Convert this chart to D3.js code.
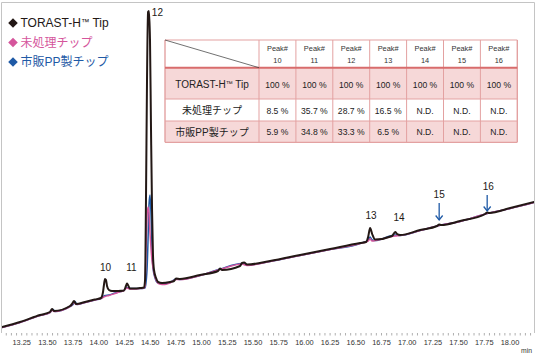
<!DOCTYPE html>
<meta charset="utf-8">
<style>
  body { margin: 0; background: #fff; }
  svg text { font-family: "Liberation Sans", Arial, "Noto Sans CJK JP", sans-serif; }
</style>
<body>
<script src="https://d3js.org/d3.v7.js"></script>
<script>
// chromatogram traces: [time (min), signal]
const toraSignal = [
  [13.058, 6], [13.233, 11], [13.428, 18], [13.525, 21], [13.545, 24], [13.564, 22],
  [13.720, 27], [13.739, 29], [13.759, 32], [13.778, 29], [13.866, 31], [13.963, 33.5],
  [14.021, 35], [14.041, 41], [14.050, 48], [14.060, 54], [14.070, 53], [14.080, 47],
  [14.099, 43], [14.128, 42], [14.187, 42], [14.245, 42.5], [14.264, 47], [14.274, 49.5],
  [14.284, 48], [14.303, 44.5], [14.352, 44.5], [14.401, 45], [14.440, 45.5], [14.450, 53],
  [14.459, 133], [14.469, 253], [14.479, 321], [14.488, 322], [14.498, 293], [14.508, 203],
  [14.518, 123], [14.527, 78], [14.537, 63], [14.557, 55], [14.576, 51], [14.615, 50],
  [14.693, 51], [14.732, 52], [14.751, 54.5], [14.790, 54], [14.985, 58], [15.160, 62],
  [15.179, 64.5], [15.199, 63], [15.374, 67], [15.393, 70], [15.413, 70.5], [15.442, 68.5],
  [15.666, 72], [15.958, 78], [16.250, 84], [16.542, 90], [16.600, 91], [16.620, 96],
  [16.639, 105], [16.659, 99], [16.688, 93.5], [16.853, 97], [16.883, 101], [16.902, 99],
  [16.931, 98], [17.126, 103], [17.291, 107], [17.311, 108.5], [17.330, 108], [17.515, 112],
  [17.758, 119], [17.778, 120.5], [17.797, 120], [18.002, 125], [18.235, 131]
]
const untreatedSignal = [
  [13.058, 5.5], [13.233, 10.5], [13.428, 17.5], [13.525, 20.5], [13.545, 23], [13.564, 21.5],
  [13.720, 26.5], [13.739, 28], [13.759, 31], [13.778, 28.5], [13.866, 30.5], [13.963, 33],
  [14.021, 34.5], [14.060, 36.5], [14.099, 37.5], [14.158, 39.5], [14.216, 41.5], [14.245, 42.5],
  [14.274, 45], [14.303, 44], [14.401, 44.5], [14.440, 45], [14.450, 47], [14.459, 83],
  [14.469, 116], [14.479, 126], [14.488, 120], [14.498, 100], [14.508, 84], [14.518, 72],
  [14.537, 60], [14.557, 53], [14.590, 49], [14.644, 48.5], [14.693, 50], [14.751, 53.5], [14.790, 53.5],
  [14.985, 57.5], [15.179, 63.5], [15.393, 69], [15.442, 67.5], [15.666, 71.5], [15.958, 77.5],
  [16.250, 83.5], [16.542, 89.5], [16.620, 92], [16.639, 94], [16.659, 92], [16.688, 92.5],
  [16.883, 97], [16.931, 97.5], [17.126, 102.5], [17.311, 107.5], [17.515, 111.5],
  [17.778, 119.5], [18.002, 124.5], [18.235, 130.5]
]
const ppSignal = [
  [13.058, 5.5], [13.233, 10.5], [13.428, 17.5], [13.525, 20.5], [13.555, 23.5], [13.574, 21.5],
  [13.720, 26.5], [13.749, 28.5], [13.769, 31.5], [13.788, 28.5], [13.866, 30.5], [13.963, 33],
  [14.021, 34.5], [14.060, 37.5], [14.099, 38], [14.158, 40], [14.216, 41.5], [14.245, 42.5],
  [14.274, 45.5], [14.303, 44.5], [14.401, 44.5], [14.450, 45], [14.469, 63], [14.479, 93],
  [14.488, 128], [14.498, 138], [14.508, 118], [14.518, 83], [14.527, 65], [14.547, 55],
  [14.576, 50], [14.644, 49.5], [14.693, 50.5], [14.751, 54], [14.790, 53.5], [14.985, 57.5],
  [15.179, 64], [15.393, 69.5], [15.442, 68], [15.666, 71.5], [15.958, 77.5], [16.250, 83.5],
  [16.542, 89.5], [16.620, 93], [16.639, 96], [16.659, 93], [16.688, 92.5], [16.883, 98],
  [16.931, 97.5], [17.126, 102.5], [17.311, 107.5], [17.515, 111.5], [17.778, 119.5],
  [18.002, 124.5], [18.235, 130.5]
]

// peak labels: [name, time, signal at label]
const peakLabels = [
  ['10', 14.065, 62], ['11', 14.318, 62], ['12', 14.57, 317],
  ['13', 16.648, 114], ['14', 16.92, 112], ['15', 17.311, 135], ['16', 17.788, 143]
]
const arrowPeaks = [[17.311, 130, 113], [17.778, 138, 122]]

const xTicks = d3.range(13.25, 18.001, 0.25)
const minorTicks = d3.range(13.10, 18.23, 0.05)

// legend
const seriesNames = ['TORAST-H™ Tip', '未処理チップ', '市販PP製チップ']
const seriesColors = ['#231815', '#d5559c', '#1f5aa6']

// table
const peakCols = ['10', '11', '12', '13', '14', '15', '16']
const tableRows = ['TORAST-H™ Tip', '未処理チップ', '市販PP製チップ']
const tableValues = [
  ['100 %', '100 %', '100 %', '100 %', '100 %', '100 %', '100 %'],
  ['8.5 %', '35.7 %', '28.7 %', '16.5 %', 'N.D.', 'N.D.', 'N.D.'],
  ['5.9 %', '34.8 %', '33.3 %', '6.5 %', 'N.D.', 'N.D.', 'N.D.']
]

const w = 538
const h = 354

const svg = d3.select('body').append('svg')
  .attr('width', w)
  .attr('height', h)

const xScale = d3.scaleLinear().domain([13.25, 18.0]).range([21.7, 510])
const yScale = d3.scaleLinear().domain([0, 330]).range([333, 3])

// writes a label with a smaller, raised trademark sign
function tmText(sel, size) {
  sel.each(function (d) {
    const parts = d.split('™')
    const t = d3.select(this)
    t.append('tspan').text(parts[0])
    if (parts.length > 1) {
      t.append('tspan').attr('font-size', size * 0.7).attr('dy', -size * 0.22).text('™')
      t.append('tspan').attr('dy', size * 0.22).text(parts[1])
    }
  })
}

// frame
svg.append('path')
  .attr('d', 'M1.5,333V2.5H534.5V333')
  .attr('fill', 'none')
  .attr('stroke', '#c4c4c4')

svg.append('clipPath').attr('id', 'plot')
  .append('rect').attr('x', 2).attr('y', 3).attr('width', 532).attr('height', 330)

// ticks
svg.selectAll('.minor')
  .data(minorTicks)
  .enter()
  .append('line')
  .attr('x1', d => xScale(d)).attr('x2', d => xScale(d))
  .attr('y1', 333).attr('y2', 335.5)
  .attr('stroke', '#9a9a9a')
  .attr('stroke-width', 0.8)

svg.selectAll('.xlab')
  .data(xTicks)
  .enter()
  .append('text')
  .attr('x', d => xScale(d))
  .attr('y', 344.5)
  .attr('text-anchor', 'middle')
  .attr('font-size', 7.4)
  .attr('fill', '#333')
  .text(d => d.toFixed(2))

svg.append('text')
  .attr('x', 532).attr('y', 352.5)
  .attr('text-anchor', 'end')
  .attr('font-size', 6.8)
  .attr('fill', '#333')
  .text('min')

// traces
const line = d3.line()
  .x(d => xScale(d[0]))
  .y(d => yScale(d[1]))
  .curve(d3.curveMonotoneX)

const traces = [
  [ppSignal, seriesColors[2], 1.5],
  [untreatedSignal, seriesColors[1], 1.5],
  [toraSignal, seriesColors[0], 2]
]
svg.append('g')
  .attr('clip-path', 'url(#plot)')
  .selectAll('path')
  .data(traces)
  .enter()
  .append('path')
  .attr('d', d => line(d[0]))
  .attr('fill', 'none')
  .attr('stroke', d => d[1])
  .attr('stroke-width', d => d[2])
  .attr('stroke-linejoin', 'round')

// peak labels
svg.selectAll('.peak')
  .data(peakLabels)
  .enter()
  .append('text')
  .attr('x', d => xScale(d[1]))
  .attr('y', d => yScale(d[2]))
  .attr('text-anchor', 'middle')
  .attr('font-size', 10)
  .attr('fill', '#231815')
  .text(d => d[0])

const arrows = svg.selectAll('.arrow')
  .data(arrowPeaks)
  .enter()
  .append('g')
  .attr('stroke', '#1f5aa6')
  .attr('fill', 'none')
  .attr('stroke-width', 1.3)
arrows.append('line')
  .attr('x1', d => xScale(d[0])).attr('x2', d => xScale(d[0]))
  .attr('y1', d => yScale(d[1])).attr('y2', d => yScale(d[2]))
arrows.append('path')
  .attr('d', d => {
    const x = xScale(d[0]), y = yScale(d[2])
    return 'M' + (x - 3.5) + ',' + (y - 4.5) + 'L' + x + ',' + y + 'L' + (x + 3.5) + ',' + (y - 4.5)
  })

// legend
const legend = svg.selectAll('.legend')
  .data(seriesNames)
  .enter()
  .append('g')
  .attr('transform', (d, i) => 'translate(8,' + (23 + i * 19.5) + ')')
legend.append('path')
  .attr('d', d3.symbol(d3.symbolSquare, 46))
  .attr('transform', 'translate(5,0) rotate(45)')
  .attr('fill', (d, i) => seriesColors[i])
legend.append('text')
  .attr('x', 12.5)
  .attr('y', 4.3)
  .attr('font-size', 12)
  .attr('fill', (d, i) => seriesColors[i])
  .call(tmText, 12)

// table
const tx = 165
const firstW = 94
const colW = (517.3 - 259) / 7
const rowY = [40, 67.7, 99, 121, 142.3]
const table = svg.append('g')

table.selectAll('.fill')
  .data([0, 2])
  .enter()
  .append('rect')
  .attr('x', tx).attr('width', firstW + 7 * colW)
  .attr('y', d => rowY[d + 1]).attr('height', d => rowY[d + 2] - rowY[d + 1])
  .attr('fill', '#f6d8d8')

const colX = [tx, tx + firstW].concat(d3.range(1, 8).map(i => tx + firstW + i * colW))
table.selectAll('.vline')
  .data(colX)
  .enter()
  .append('line')
  .attr('x1', d => d).attr('x2', d => d)
  .attr('y1', rowY[0]).attr('y2', rowY[4])
  .attr('stroke', '#e3a1a1')
  .attr('stroke-width', (d, i) => (i === 0 || i === colX.length - 1) ? 1.4 : 1)

table.selectAll('.hline')
  .data(rowY)
  .enter()
  .append('line')
  .attr('x1', tx).attr('x2', colX[colX.length - 1])
  .attr('y1', d => d).attr('y2', d => d)
  .attr('stroke', (d, i) => i === 1 ? '#d86c6c' : '#e3a1a1')
  .attr('stroke-width', (d, i) => i === 1 ? 2 : 1.2)

table.append('line')
  .attr('x1', tx).attr('y1', rowY[0])
  .attr('x2', tx + firstW).attr('y2', rowY[1])
  .attr('stroke', '#333').attr('stroke-width', 0.7)

const head = table.selectAll('.head')
  .data(peakCols)
  .enter()
  .append('text')
  .attr('font-size', 7.4)
  .attr('fill', '#333')
  .attr('text-anchor', 'middle')
head.append('tspan')
  .attr('x', (d, i) => tx + firstW + (i + 0.5) * colW).attr('y', 51)
  .text('Peak#')
head.append('tspan')
  .attr('x', (d, i) => tx + firstW + (i + 0.5) * colW).attr('y', 63)
  .text(d => d)

const rowMid = [84.5, 110.3, 132]
table.selectAll('.rowname')
  .data(tableRows)
  .enter()
  .append('text')
  .attr('x', tx + firstW / 2)
  .attr('y', (d, i) => rowMid[i] + 3.6)
  .attr('text-anchor', 'middle')
  .attr('font-size', 10)
  .attr('fill', '#222')
  .call(tmText, 10)

tableValues.forEach((vals, r) => {
  table.selectAll('.v' + r)
    .data(vals)
    .enter()
    .append('text')
    .attr('x', (d, i) => tx + firstW + (i + 0.5) * colW)
    .attr('y', rowMid[r] + 3.2)
    .attr('text-anchor', 'middle')
    .attr('font-size', 8.6)
    .attr('fill', '#222')
    .text(d => d)
})
</script>
</body>
